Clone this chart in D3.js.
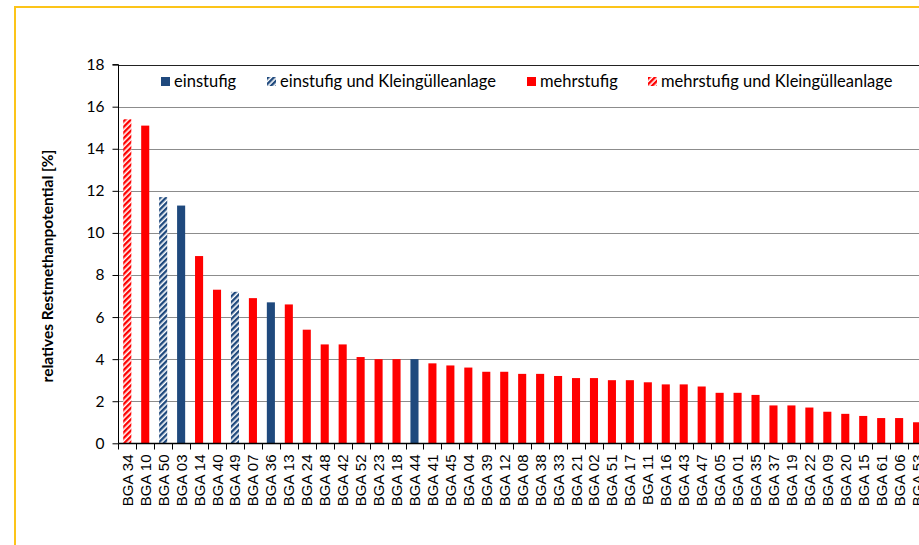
<!DOCTYPE html>
<html>
<head>
<meta charset="utf-8">
<script src="https://cdn.jsdelivr.net/npm/d3@7/dist/d3.min.js"></script>
<style>
  html, body { margin: 0; padding: 0; background: #fff; }
  svg { display: block; }
</style>
</head>
<body>
<svg id="chart" width="919" height="545"></svg>
<script>
// Biogas plants, sorted by relative residual methane potential
const plants = ["BGA 34","BGA 10","BGA 50","BGA 03","BGA 14","BGA 40","BGA 49","BGA 07","BGA 36","BGA 13",
  "BGA 24","BGA 48","BGA 42","BGA 52","BGA 23","BGA 18","BGA 44","BGA 41","BGA 45","BGA 04",
  "BGA 39","BGA 12","BGA 08","BGA 38","BGA 33","BGA 21","BGA 02","BGA 51","BGA 17","BGA 11",
  "BGA 16","BGA 43","BGA 47","BGA 05","BGA 01","BGA 35","BGA 37","BGA 19","BGA 22","BGA 09",
  "BGA 20","BGA 15","BGA 61","BGA 06","BGA 53"];
const potential = [15.4,15.1,11.7,11.3,8.9,7.3,7.2,6.9,6.7,6.6,
  5.4,4.7,4.7,4.1,4.0,4.0,4.0,3.8,3.7,3.6,
  3.4,3.4,3.3,3.3,3.2,3.1,3.1,3.0,3.0,2.9,
  2.8,2.8,2.7,2.4,2.4,2.3,1.8,1.8,1.7,1.5,
  1.4,1.3,1.2,1.2,1.0];
// plant type: e = einstufig, ek = einstufig und Kleingülleanlage, m = mehrstufig, mk = mehrstufig und Kleingülleanlage
const plantType = ["mk","m","ek","e","m","m","ek","m","e","m",
  "m","m","m","m","m","m","e","m","m","m",
  "m","m","m","m","m","m","m","m","m","m",
  "m","m","m","m","m","m","m","m","m","m",
  "m","m","m","m","m"];
const seriesKeys = ["e","ek","m","mk"];
const seriesNames = ["einstufig","einstufig und Kleingülleanlage","mehrstufig","mehrstufig und Kleingülleanlage"];
const yTicks = [0,2,4,6,8,10,12,14,16,18];

const BLUE = "#1f497d", RED = "#ff0000";
const svg = d3.select("#chart");
const defs = svg.append("defs");

function hatch(id, color) {
  const p = defs.append("pattern").attr("id", id)
    .attr("patternUnits", "userSpaceOnUse").attr("width", 4).attr("height", 4)
    .attr("patternTransform", "rotate(45)");
  p.append("rect").attr("width", 4).attr("height", 4).attr("fill", "#fff");
  p.append("rect").attr("width", 2.4).attr("height", 4).attr("fill", color);
}
hatch("hatchBlue", BLUE);
hatch("hatchRed", RED);
const fills = { e: BLUE, ek: "url(#hatchBlue)", m: RED, mk: "url(#hatchRed)" };

// outer frame
svg.append("rect").attr("x", 15).attr("y", 7).attr("width", 930).attr("height", 560)
  .attr("fill", "none").attr("stroke", "#fcc419").attr("stroke-width", 2);

const plotLeft = 118.3, plotTop = 64.6, plotBottom = 443.3, band = 17.95;
const x = d3.scaleBand().domain(plants).range([plotLeft, plotLeft + band * plants.length]).paddingInner(0.55).paddingOuter(0.275);
const y = d3.scaleLinear().domain([0, 18]).range([plotBottom, plotTop]);

// grid
svg.append("g").selectAll("line").data(yTicks.filter(t => t > 0)).join("line")
  .attr("x1", plotLeft).attr("x2", 919)
  .attr("y1", d => Math.round(y(d)) + 0.5).attr("y2", d => Math.round(y(d)) + 0.5)
  .attr("stroke", d => d === 18 ? "#222" : "#8c8c8c").attr("stroke-width", 1);

// bars
svg.append("g").selectAll("rect").data(plants).join("rect")
  .attr("x", d => x(d))
  .attr("width", x.bandwidth())
  .attr("y", (d, i) => y(potential[i]))
  .attr("height", (d, i) => y(0) - y(potential[i]))
  .attr("fill", (d, i) => fills[plantType[i]]);

// y axis
const yAxis = svg.append("g").attr("transform", `translate(${Math.round(plotLeft) + 0.5},0)`)
  .call(d3.axisLeft(y).tickValues(yTicks).tickSize(6).tickPadding(8));
yAxis.select(".domain").attr("stroke", "#000").attr("d", `M-6,${y(18)}H0V${y(0)}`);
yAxis.selectAll(".tick line").attr("stroke", "#000");
yAxis.selectAll("text").attr("font-family", "Lato, 'Open Sans', sans-serif").attr("font-size", 15.5).attr("fill", "#000");

// x axis with ticks on band boundaries
const xg = svg.append("g").attr("transform", `translate(0,${Math.round(plotBottom) + 0.5})`);
xg.append("line").attr("x1", plotLeft).attr("x2", 919).attr("stroke", "#000").attr("stroke-width", 1.5);
xg.selectAll("line.tk").data(d3.range(plants.length + 1)).join("line").attr("class", "tk")
  .attr("x1", i => Math.round(plotLeft + i * band) + 0.5).attr("x2", i => Math.round(plotLeft + i * band) + 0.5)
  .attr("y1", 0).attr("y2", 6).attr("stroke", "#000");
xg.selectAll("text").data(plants).join("text")
  .attr("transform", d => `translate(${x(d) + x.bandwidth() / 2 + 5.5},11) rotate(-90)`)
  .attr("text-anchor", "end")
  .attr("font-family", "'Liberation Sans', Arial, sans-serif").attr("font-size", 15)
  .attr("fill", "#000").text(d => d);

// y axis title
svg.append("text").attr("transform", "translate(53,266) rotate(-90)")
  .attr("text-anchor", "middle").attr("font-family", "Lato, 'Open Sans', sans-serif")
  .attr("font-weight", "bold").attr("font-size", 15.5).attr("fill", "#000")
  .text("relatives Restmethanpotential [%]");

// legend
const legendX = [161, 267, 527, 648];
const lg = svg.append("g").selectAll("g").data(seriesKeys).join("g")
  .attr("transform", (d, i) => `translate(${legendX[i]},77)`);
lg.append("rect").attr("width", 9).attr("height", 9).attr("fill", d => fills[d]);
lg.append("text").attr("x", 13).attr("y", 10)
  .attr("font-family", "Lato, 'Open Sans', sans-serif").attr("font-size", 16.5).attr("fill", "#000")
  .text((d, i) => seriesNames[i]);
</script>
</body>
</html>
